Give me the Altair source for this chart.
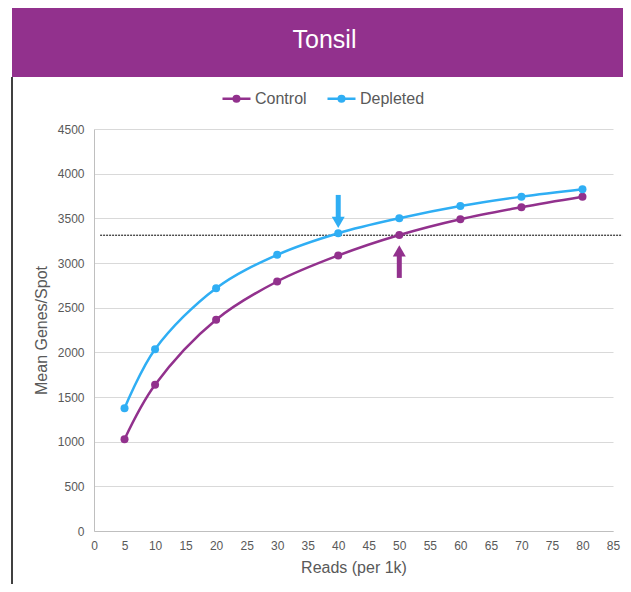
import altair as alt
import pandas as pd

title_text = "Tonsil"
reads = [5, 10, 20, 30, 40, 50, 60, 70, 80]
control = [1027, 1636, 2365, 2793, 3084, 3313, 3490, 3625, 3742]
depleted = [1374, 2035, 2718, 3091, 3333, 3501, 3638, 3743, 3826]
series_names = ["Control", "Depleted"]
series_colors = ["#92318D", "#2FAEF4"]
threshold = 3311
threshold_from = 1
threshold_to = 86.5
x_ticks = [0, 5, 10, 15, 20, 25, 30, 35, 40, 45, 50, 55, 60, 65, 70, 75, 80, 85]
y_ticks = [0, 500, 1000, 1500, 2000, 2500, 3000, 3500, 4000, 4500]

arrow_series = ["Depleted", "Control"]
arrow_x = [40, 50]
arrow_tail = [3762, 2833]
arrow_neck = [3480, 3100]
arrow_head = [3455, 3135]
arrow_shape = ["triangle-down", "triangle-up"]

FONT = "Liberation Sans"
GREY = "#595959"

rows = []
for name, vals in zip(series_names, [control, depleted]):
    for r, v in zip(reads, vals):
        rows.append({"reads": r, "value": v, "series": name})
df = pd.DataFrame(rows)

arrows = pd.DataFrame({
    "series": arrow_series, "reads": arrow_x, "value": arrow_tail,
    "value2": arrow_neck, "head": arrow_head, "shape": arrow_shape,
})
thr = pd.DataFrame({"reads": [threshold_from], "reads2": [threshold_to], "value": [threshold]})
title_df = pd.DataFrame({"t": [title_text]})

color_scale = alt.Scale(domain=series_names, range=series_colors)
x_scale = alt.Scale(domain=[0, 85], nice=False, zero=True)
y_scale = alt.Scale(domain=[0, 4500], nice=False)

legend_path = ("M-1,0L1,0"
               "M-0.2,0A0.2,0.2,0,1,0,0.2,0A0.2,0.2,0,1,0,-0.2,0"
               "M-0.1,0A0.1,0.1,0,1,0,0.1,0A0.1,0.1,0,1,0,-0.1,0")

x_axis = alt.Axis(
    values=x_ticks, title="Reads (per 1k)", grid=False, ticks=False,
    labelPadding=9, domainColor="#BFBFBF", labelColor=GREY, labelFontSize=12,
    labelFont=FONT, titleFont=FONT, titleFontSize=16, titleFontWeight="normal",
    titleColor=GREY, titlePadding=8, labelFlush=False, labelOverlap=False,
    labelSeparation=0, labelBound=False, format="d")
y_axis = alt.Axis(
    values=y_ticks, title="Mean Genes/Spot", ticks=False, labelPadding=10,
    gridColor="#D9D9D9", domainColor="#BFBFBF", labelColor=GREY, labelFontSize=12,
    labelFont=FONT, titleFont=FONT, titleFontSize=16, titleFontWeight="normal",
    titleColor=GREY, titlePadding=8, labelOverlap=False, format="d")


def X(field):
    return alt.X(field, scale=x_scale, axis=x_axis)


def Y(field):
    return alt.Y(field, scale=y_scale, axis=y_axis)


lines = alt.Chart(df).mark_line(interpolate="catmull-rom", strokeWidth=2.5).encode(
    x=X("reads:Q"), y=Y("value:Q"),
    color=alt.Color("series:N", scale=color_scale, legend=alt.Legend(
        orient="none", legendX=127, legendY=-46, direction="horizontal", title=None,
        symbolType=legend_path, symbolSize=784, symbolStrokeWidth=2.5,
        labelFontSize=16, labelColor=GREY, labelFont=FONT, columnPadding=15,
        labelOffset=3, padding=0)),
)
points = alt.Chart(df).mark_point(filled=True, size=64, opacity=1, strokeWidth=0).encode(
    x=X("reads:Q"), y=Y("value:Q"),
    color=alt.Color("series:N", scale=color_scale, legend=None),
)
thr_rule = alt.Chart(thr).mark_rule(color="black", strokeWidth=1, strokeDash=[2, 1], clip=False).encode(
    x=X("reads:Q"), x2="reads2:Q", y=Y("value:Q"))
arrow_shaft = alt.Chart(arrows).mark_rule(strokeWidth=5, strokeCap="butt").encode(
    x=X("reads:Q"), y=Y("value:Q"), y2="value2:Q",
    color=alt.Color("series:N", scale=color_scale, legend=None))
arrow_heads = alt.Chart(arrows).mark_point(filled=True, size=169, opacity=1, strokeWidth=0).encode(
    x=X("reads:Q"), y=Y("head:Q"),
    shape=alt.Shape("shape:N", scale=None, legend=None),
    color=alt.Color("series:N", scale=color_scale, legend=None))

bar = alt.Chart(title_df).mark_rect(color="#92318D").encode(
    x=alt.value(-82), x2=alt.value(529), y=alt.value(-121), y2=alt.value(-52))
bar_text = alt.Chart(title_df).mark_text(font=FONT, fontSize=25, color="white",
                                         align="center", baseline="alphabetic").encode(
    x=alt.value(230.5), y=alt.value(-81), text="t:N")
border = alt.Chart(title_df).mark_rule(color="black", strokeWidth=1.5).encode(
    x=alt.value(-82), y=alt.value(-52), y2=alt.value(455))

chart = alt.layer(bar, bar_text, border, thr_rule, lines, points, arrow_shaft, arrow_heads).properties(
    width=519, height=402,
    padding={"left": 3, "top": 0, "right": 0, "bottom": 0},
    background="white",
).configure_view(stroke=None).configure_axis(labelOverlap=False, labelSeparation=0)

chart.save("out.html", embed_options={"renderer": "svg", "actions": False})
